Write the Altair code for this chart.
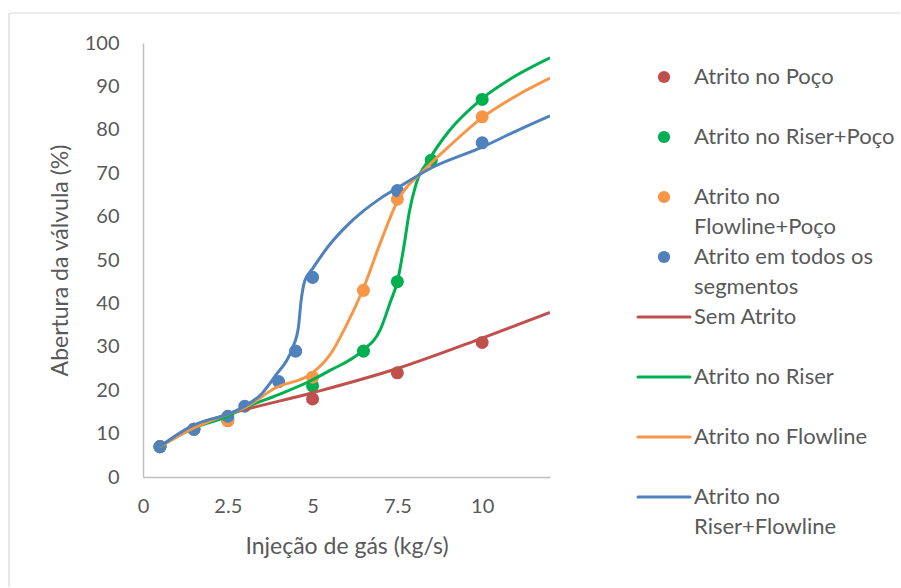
import altair as alt
import pandas as pd

# ---------------- data ----------------
point_names = ["Atrito no Poço", "Atrito no Riser+Poço",
               "Atrito no Flowline+Poço", "Atrito em todos os segmentos"]
line_names = ["Sem Atrito", "Atrito no Riser", "Atrito no Flowline",
              "Atrito no Riser+Flowline"]
series_colors = ["#C0504D", "#00B050", "#F79646", "#4F81BD"]

# scatter series (markers)
pts_x_poco = [0.5, 1.5, 2.5, 5, 7.5, 10]
pts_y_poco = [7, 11, 13, 18, 24, 31]
pts_x_riser_poco = [0.5, 1.5, 2.5, 5, 6.5, 7.5, 8.5, 10]
pts_y_riser_poco = [7, 11, 13.5, 21, 29, 45, 73, 87]
pts_x_flow_poco = [0.5, 1.5, 2.5, 5, 6.5, 7.5, 10]
pts_y_flow_poco = [7, 11, 13, 23, 43, 64, 83]
pts_x_todos = [0.5, 1.5, 2.5, 3, 4, 4.5, 5, 7.5, 10]
pts_y_todos = [7, 11, 14, 16.3, 22, 29, 46, 66, 77]

# smooth line series
ln_x_sem = [0.5, 1.5, 2.5, 5, 7.5, 10, 12]
ln_y_sem = [7, 11.8, 14.4, 19.4, 25, 32, 37.9]
ln_x_riser = [0.5, 1.5, 2.5, 2.9, 4, 4.9, 5.5, 6.45, 7, 7.3, 7.5, 7.7, 7.85,
              8.05, 8.45, 9, 10, 11, 12]
ln_y_riser = [7, 11.3, 14, 15.6, 19, 22, 24.5, 29, 34, 40.5, 45, 53.5, 61,
              67.5, 73.3, 79.5, 87.2, 92.5, 96.6]
ln_x_flow = [0.5, 1.5, 2.5, 3, 3.9, 5, 5.5, 6, 6.5, 7, 7.5, 8.3, 9, 10, 11, 12]
ln_y_flow = [7, 11.3, 14.5, 16, 20.5, 24, 28, 35, 43.5, 54, 63.5, 70.8,
             76, 82.8, 87.8, 91.9]
ln_x_rf = [0.5, 1.5, 2.5, 3, 3.5, 3.9, 4.4, 4.58, 4.66, 4.77, 5, 5.5, 6,
           6.5, 7, 7.5, 8.5, 10, 11, 12]
ln_y_rf = [7, 12, 14.5, 16.3, 19.2, 23.3, 29.6, 34.4, 40.5, 45.2, 48, 53.5,
           57.8, 61.3, 64.2, 66.6, 71.2, 76, 79.7, 83.2]

x_ticks = [0, 2.5, 5, 7.5, 10]
y_ticks = list(range(0, 101, 10))

legend_labels = ["Atrito no Poço", "Atrito no Riser+Poço",
                 "Atrito no\nFlowline+Poço", "Atrito em todos os\nsegmentos",
                 "Sem Atrito", "Atrito no Riser", "Atrito no Flowline",
                 "Atrito no\nRiser+Flowline"]

# ---------------- tables ----------------
pts_sets = [(pts_x_poco, pts_y_poco), (pts_x_riser_poco, pts_y_riser_poco),
            (pts_x_flow_poco, pts_y_flow_poco), (pts_x_todos, pts_y_todos)]
ln_sets = [(ln_x_sem, ln_y_sem), (ln_x_riser, ln_y_riser),
           (ln_x_flow, ln_y_flow), (ln_x_rf, ln_y_rf)]

rows = []
for name, (xs_, ys_) in zip(point_names, pts_sets):
    for i, (a, b) in enumerate(zip(xs_, ys_)):
        rows.append({"serie": name, "x": a, "y": b, "i": i})
pts_df = pd.DataFrame(rows)

all_names = point_names + line_names
all_colors = series_colors + series_colors
color_scale = alt.Scale(domain=all_names, range=all_colors)

TXT = "#595959"
FONT = "Lato"

xs = alt.Scale(domain=[0, 12], nice=False)
ys = alt.Scale(domain=[0, 100], nice=False)
x_axis = alt.Axis(values=x_ticks, format="~g", title="Injeção de gás (kg/s)",
                  labelPadding=19, titlePadding=19, labelFlush=False)
y_axis = alt.Axis(values=y_ticks, title="Abertura da válvula (%)",
                  labelPadding=24, titlePadding=12, labelFlush=False)

# chart-area frame (decoration: only top and left edges are inside the picture)
one = pd.DataFrame({"a": [0]})
frame_top = alt.Chart(one).mark_rule(color="#D9D9D9", strokeWidth=1.2).encode(
    x=alt.value(-134), x2=alt.value(757), y=alt.value(-30))
frame_left = alt.Chart(one).mark_rule(color="#D9D9D9", strokeWidth=1.2).encode(
    x=alt.value(-134), y=alt.value(-30), y2=alt.value(544))

points = alt.Chart(pts_df).mark_circle(size=170, opacity=1).encode(
    x=alt.X("x:Q", scale=xs, axis=x_axis),
    y=alt.Y("y:Q", scale=ys, axis=y_axis),
    color=alt.Color("serie:N", scale=color_scale, legend=None),
)

line_layers = []
for name, (lx, ly) in zip(line_names, ln_sets):
    df = pd.DataFrame({"serie": name, "x": lx, "y": ly, "i": range(len(lx))})
    line_layers.append(
        alt.Chart(df).mark_line(strokeWidth=3, interpolate="monotone", clip=True).encode(
            x=alt.X("x:Q", scale=xs),
            y=alt.Y("y:Q", scale=ys),
            order="i:Q",
            color=alt.Color("serie:N", scale=color_scale, legend=None),
        )
    )

plot = alt.layer(frame_top, frame_left, points, *line_layers).properties(
    width=407, height=434)

# ---------------- legend panel ----------------
leg_rows = []
for r, (name, lab) in enumerate(zip(all_names, legend_labels)):
    parts = lab.split("\n")
    leg_rows.append({"serie": name, "row": r,
                     "kind": "point" if r < 4 else "line",
                     "l1": parts[0], "l2": parts[1] if len(parts) > 1 else ""})
leg_df = pd.DataFrame(leg_rows)

ry = alt.Scale(domain=[-34 / 60, 400 / 60], reverse=True, nice=False, zero=False)
leg_base = alt.Chart(leg_df).encode(
    y=alt.Y("row:Q", scale=ry, axis=None),
    color=alt.Color("serie:N", scale=color_scale, legend=None),
)
leg_pts = leg_base.transform_filter(alt.datum.kind == "point").mark_circle(
    size=150, opacity=1).encode(x=alt.value(43))
leg_lines = leg_base.transform_filter(alt.datum.kind == "line").mark_rule(
    strokeWidth=3, strokeCap="round").encode(x=alt.value(17), x2=alt.value(69))
leg_t1 = alt.Chart(leg_df).mark_text(align="left", baseline="middle",
                                     fontSize=22, font=FONT, color=TXT).encode(
    x=alt.value(73), y=alt.Y("row:Q", scale=ry, axis=None), text="l1:N")
leg_t2 = alt.Chart(leg_df).mark_text(align="left", baseline="middle", dy=29.5,
                                     fontSize=22, font=FONT, color=TXT).encode(
    x=alt.value(73), y=alt.Y("row:Q", scale=ry, axis=None), text="l2:N")

legend = alt.layer(leg_pts, leg_lines, leg_t1, leg_t2).properties(
    width=270, height=434)

chart = alt.hconcat(plot, legend, spacing=71, bounds="flush").resolve_scale(
    y="independent", x="independent"
).properties(
    padding={"left": 8, "top": 12, "right": 0, "bottom": 0},
    background="white",
).configure_view(stroke=None).configure_axis(
    grid=False, ticks=False, domainColor="#BFBFBF", domainWidth=1.5,
    labelFont=FONT, titleFont=FONT, labelFontSize=20, titleFontSize=23,
    labelColor=TXT, titleColor=TXT, titleFontWeight="normal",
)

chart.save("out.html", embed_options={"renderer": "svg", "actions": False})
